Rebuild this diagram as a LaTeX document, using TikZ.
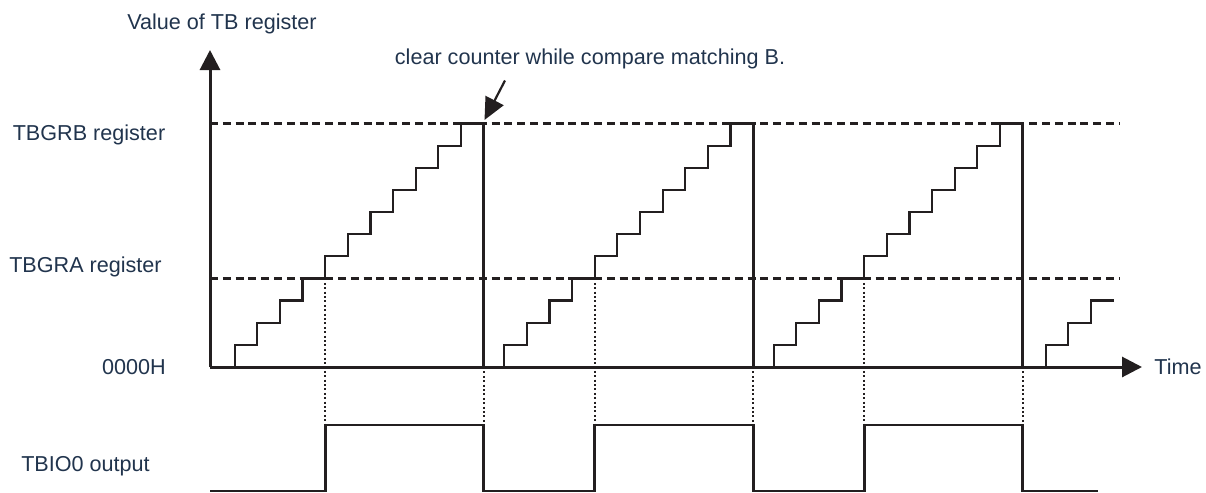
\documentclass[tikz,border=0pt]{standalone}
\usepackage{fontspec}
\setmainfont{Liberation Sans}
\usepackage{xcolor}
\usepackage{tikz}
\usetikzlibrary{arrows.meta, positioning, calc}

\definecolor{labelblue}{RGB}{33,52,77}
\definecolor{inkblack}{RGB}{35,31,32}

\begin{document}
\begin{tikzpicture}[x=0.5pt, y=-0.5pt,
    lbl/.style={inner sep=0pt, text=labelblue, font=\fontsize{10.8}{13}\selectfont},
    axis/.style={draw=inkblack, line width=1.5pt, -{Triangle[length=10pt, width=10pt]}},
    stair/.style={draw=inkblack, line width=1.1pt},
    level/.style={draw=inkblack, line width=1.1pt, dash pattern=on 4pt off 2.4pt},
    guide/.style={draw=inkblack, line width=0.9pt, dash pattern=on 1pt off 1.2pt},
    pulse/.style={draw=inkblack, line width=1.4pt}]
      \useasboundingbox (0,0) rectangle (1206,493);

      \coordinate (origin) at (210,367);
      \coordinate (ytop) at (210,50);
      \coordinate (xend) at (1142,367);

      % compare levels
      \draw[level] (210,123.5) -- (1119,123.5);
      \draw[level] (210,278.4) -- (1119,278.4);

      % counter, one ramp per period
      \foreach \off in {0,269.5,539} {
        \draw[stair] (234.7+\off,367) \foreach \k in {1,...,11} { -- ++(0,-22.14) -- ++(22.63,0) };
        \draw[pulse] (483.6+\off,123.5) -- (483.6+\off,367);
        \draw[guide] (325.2+\off,278.4) -- (325.2+\off,425);
        \draw[guide] (483.6+\off,367) -- (483.6+\off,425);
      }
      \draw[stair] (1045.7,367) \foreach \k in {1,2,3} { -- ++(0,-22.14) -- ++(22.63,0) };

      \draw[axis] (origin) -- (ytop);
      \draw[axis] (origin) -- (xend);

      % TBIO0 output
      \draw[pulse] (210,491) -- (325.2,491) -- (325.2,425) -- (483.6,425) -- (483.6,491)
        -- (594.7,491) -- (594.7,425) -- (753.1,425) -- (753.1,491)
        -- (864.2,491) -- (864.2,425) -- (1022.6,425) -- (1022.6,491) -- (1098,491);

      \node[lbl] (yname) at (222,24) {Value of TB register};
      \node[lbl] (regb) at (89,135) {TBGRB register};
      \node[lbl] (rega) at (85.5,267) {TBGRA register};
      \node[lbl] (zero) at (134,367) {0000H};
      \node[lbl] (tname) at (1178,367) {Time};
      \node[lbl] (outname) at (85.5,466) {TBIO0 output};
      \node[lbl] (note) at (590,59) {clear counter while compare matching B.};

      \coordinate (notefoot) at (505,80.5);
      \coordinate (clr) at (484.5,120);
      \draw[draw=inkblack, line width=1.1pt, -{Triangle[length=11pt, width=10pt]}] (notefoot) -- (clr);
    \end{tikzpicture}
\end{document}
